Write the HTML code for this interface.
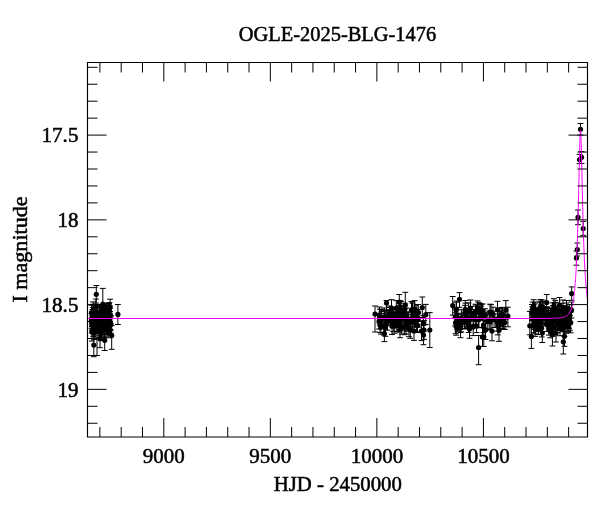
<!DOCTYPE html><html><head><meta charset="utf-8"><style>
html,body{margin:0;padding:0;background:#fff;width:600px;height:512px;overflow:hidden}
svg{display:block;will-change:transform}
text{font-family:"Liberation Serif",serif;fill:#000;stroke:#000;stroke-width:0.5px}
.n{font-size:20px}
.t{font-size:20px}
</style></head><body><svg width="600" height="512" viewBox="0 0 600 512"><defs><clipPath id="cp"><rect x="87" y="62" width="501" height="375.5"/></clipPath></defs><g clip-path="url(#cp)">
<path d="M97.8 318.2V331.6M101.9 319.8V334.7M92.6 309.5V324.7M92.9 312.2V325.6M99.8 313.6V327.7M103.7 306.9V324.7M108.2 323.4V337.8M94.3 314.9V332.0M95.0 315.1V331.0M104.0 306.2V319.5M92.7 318.3V332.4M104.8 305.6V321.5M100.3 314.4V328.9M107.0 309.4V325.3M101.7 305.3V322.7M105.7 307.6V321.2M106.3 317.1V330.3M104.5 317.2V334.0M102.7 315.1V331.5M103.1 306.8V322.7M100.4 320.3V335.7M99.0 310.6V325.9M94.8 310.9V324.5M92.6 312.3V326.5M99.1 306.7V324.0M93.1 301.9V319.3M107.5 313.1V330.4M96.9 304.6V322.0M110.2 315.5V329.2M94.9 311.9V327.3M103.0 316.9V331.2M91.6 305.2V321.0M110.1 314.1V330.5M101.6 304.6V317.9M109.0 303.5V320.4M108.6 313.6V328.6M93.5 304.2V320.4M92.7 316.5V330.3M98.1 314.3V327.6M91.5 313.5V328.3M92.0 312.9V330.3M103.5 314.8V329.5M98.6 316.5V330.1M108.1 319.1V334.5M93.2 311.9V325.4M98.2 310.9V324.7M92.0 323.2V341.0M101.8 317.7V330.9M101.8 317.0V334.9M108.3 309.8V324.6M94.8 305.4V322.3M101.9 313.1V327.2M107.3 303.9V321.8M108.1 315.1V331.8M95.9 299.1V314.7M98.4 313.4V327.8M96.6 311.1V327.5M110.8 315.5V333.2M98.6 312.9V326.9M95.5 315.9V332.0M109.1 315.2V331.4M107.1 305.5V319.0M104.4 320.9V337.7M100.8 305.5V319.4M106.9 303.8V321.7M99.2 322.4V337.4M110.0 311.5V325.1M94.4 306.0V323.5M107.2 318.0V335.9M104.3 322.0V336.8M102.2 310.9V328.7M104.2 312.1V327.7M95.6 317.6V331.9M97.2 312.4V326.7M99.7 321.5V335.1M109.2 306.3V322.3M109.1 317.6V332.7M109.4 302.6V318.2M91.9 311.3V326.5M95.1 324.6V338.5M100.7 311.0V327.6M102.4 307.2V323.0M106.8 319.7V333.3M102.4 310.6V327.5M101.4 316.7V332.5M106.3 317.4V333.5M101.4 307.3V322.8M105.0 303.0V318.4M109.9 313.3V329.8M108.6 316.2V332.0M109.9 308.5V325.7M94.2 317.8V331.1M96.2 317.6V330.9M104.6 315.3V329.0M94.3 325.5V339.6M110.1 299.2V314.2M101.0 325.3V339.1M99.9 310.4V325.9M98.1 312.7V329.4M91.9 316.9V332.7M100.1 317.2V333.3M101.5 313.1V326.4M110.7 316.7V330.2M92.3 313.2V326.8M99.7 304.8V322.3M107.5 310.0V327.6M102.6 314.7V331.2M93.2 321.4V336.6M92.9 313.9V331.6M103.9 311.3V328.6M92.8 307.6V324.9M100.3 305.5V323.1M96.7 319.7V333.3M101.8 312.3V326.1M92.5 315.4V329.4M97.6 307.8V322.2M101.3 323.2V337.1M98.3 317.7V330.8M105.8 311.7V327.5M93.6 313.0V330.1M396.3 300.6V315.6M399.3 310.6V327.0M418.3 304.5V321.0M404.4 319.7V334.7M392.9 314.6V327.9M408.6 312.3V326.6M385.5 318.9V336.3M405.8 316.6V331.0M388.7 310.0V323.8M396.8 317.2V331.5M417.5 318.2V332.4M417.6 310.0V324.6M393.3 316.2V331.6M399.1 311.5V325.5M399.2 316.1V329.5M395.0 312.0V325.2M379.9 309.2V325.1M400.2 313.9V330.7M405.3 308.6V323.6M385.0 310.6V323.8M412.4 302.0V319.4M404.1 310.6V324.3M400.0 300.7V316.3M412.4 314.0V329.9M414.7 300.6V317.0M406.7 311.8V325.5M393.4 313.1V326.6M412.4 303.2V319.4M406.2 308.0V323.4M379.1 313.4V329.0M400.4 301.6V317.9M381.6 311.5V324.8M389.6 306.0V322.6M387.2 309.8V325.3M398.2 306.7V322.7M404.7 303.2V316.6M384.9 311.0V325.5M401.7 321.0V334.1M381.4 309.3V325.8M406.0 319.4V333.9M399.7 305.7V319.3M414.7 312.9V326.9M418.1 311.8V327.1M411.8 309.2V327.0M397.0 309.2V326.9M387.4 314.3V330.2M384.3 307.9V325.0M399.3 317.9V332.1M414.9 305.2V320.6M380.0 317.3V332.5M391.1 311.8V325.5M392.8 307.7V320.8M409.0 319.5V336.7M383.8 317.5V335.0M390.6 307.2V322.1M394.7 318.4V333.2M396.1 311.3V325.6M380.9 319.7V334.1M416.4 317.6V331.8M389.6 307.5V322.4M417.2 309.5V327.0M411.5 301.4V319.1M401.0 301.3V317.9M381.0 309.5V326.2M404.8 305.3V319.7M381.0 313.4V328.8M392.7 310.0V324.5M408.6 314.6V330.9M391.0 310.0V325.8M394.8 313.1V327.1M500.3 313.1V328.6M477.5 300.9V314.6M464.6 315.5V329.0M467.0 313.6V327.9M483.5 317.4V332.5M475.7 304.2V319.9M473.8 309.8V324.2M503.4 312.9V326.5M480.2 303.4V317.5M468.6 302.9V317.1M497.4 313.9V331.2M456.1 317.7V335.2M478.7 311.8V327.7M497.8 317.0V334.9M467.4 312.7V328.3M489.1 311.2V328.9M491.1 304.7V320.0M482.6 303.9V317.1M494.1 311.2V327.5M461.4 309.7V326.2M460.6 319.1V332.5M481.2 306.2V320.3M485.1 308.8V321.8M487.2 312.7V330.1M478.8 309.5V327.3M490.2 314.9V329.4M456.1 302.2V317.3M467.9 309.9V326.3M501.3 310.9V325.6M476.0 311.2V327.6M464.9 312.9V328.4M465.3 300.5V318.3M470.6 312.6V326.8M493.0 307.2V321.6M502.6 307.4V321.5M475.9 309.9V326.3M502.4 314.3V328.4M503.7 315.5V329.2M457.6 314.4V331.9M499.2 311.7V328.4M504.9 315.5V329.4M501.8 307.6V324.3M456.6 307.8V322.7M471.6 306.5V320.3M455.1 308.2V325.9M461.2 314.1V331.9M465.4 303.1V320.2M476.6 319.4V332.6M478.7 302.4V316.4M473.2 318.1V335.6M456.5 301.1V317.9M457.0 316.8V329.9M458.1 313.3V330.1M499.9 308.6V323.3M468.6 318.2V332.5M558.9 308.5V323.1M541.7 319.3V336.9M555.7 309.4V327.1M531.9 309.8V327.6M568.2 317.3V332.2M540.8 302.8V320.5M538.1 312.5V329.5M559.8 314.5V330.6M543.8 301.4V316.0M545.1 311.5V325.5M560.4 308.5V322.7M533.5 318.1V332.8M569.2 310.9V328.3M569.5 311.0V324.5M550.4 312.2V328.8M548.4 310.6V326.7M557.3 315.8V332.6M564.0 307.8V325.0M542.5 307.5V323.3M545.5 310.6V324.8M540.6 307.1V320.9M565.5 305.8V320.8M569.7 307.7V323.2M540.0 312.2V330.1M535.0 302.2V317.5M562.9 318.6V331.8M542.5 300.0V313.6M538.4 317.0V334.6M545.5 308.0V325.3M548.5 308.5V326.2M535.1 320.4V336.4M555.2 312.3V326.0M539.0 316.5V330.8M554.4 309.1V322.2M543.8 306.5V322.9M538.2 308.0V324.9M552.4 315.1V328.4M535.0 303.9V320.1M534.6 315.7V329.5M558.1 306.6V321.1M568.2 313.3V327.9M553.1 305.5V322.8M569.9 315.5V330.3M538.7 310.9V324.0M566.2 306.4V321.5M563.0 300.0V315.3M537.3 318.4V331.4M552.5 302.9V316.4M555.3 300.4V315.3M550.7 313.2V328.8M567.1 315.1V328.7M550.1 316.3V330.3M567.8 318.2V331.4M567.1 309.5V324.4M566.3 303.0V316.8M561.6 303.3V317.4M546.8 317.5V331.4M539.5 301.2V316.2M551.2 308.6V322.8M559.3 311.3V328.8M532.6 302.1V315.3M563.7 307.4V320.9M554.4 302.7V317.3M547.4 307.4V323.3M547.6 306.9V322.1M531.9 304.5V320.6M550.1 310.5V327.4M548.9 321.2V335.1M549.5 312.9V328.0M534.6 312.4V327.6M550.9 319.6V333.0M559.6 311.7V328.6M550.9 317.3V332.1M568.1 313.5V327.2M564.4 319.2V336.3M538.6 308.8V326.7M550.2 324.0V337.8M561.7 305.6V323.2M533.6 305.1V318.9M566.0 318.9V333.3M562.8 313.6V331.2M539.1 316.4V330.7M550.7 310.4V324.3M537.3 310.7V328.3M557.5 312.4V329.4M535.5 307.9V323.6M555.8 302.4V318.1M553.6 318.7V336.1M535.1 319.0V333.9M562.1 310.5V324.8M569.6 304.6V321.4M548.2 308.4V322.3M560.0 321.5V335.7M555.9 312.4V330.3M553.8 308.8V321.8M532.3 306.7V320.4M555.0 302.7V320.2M536.1 313.9V328.0M556.5 311.0V325.8M535.1 310.7V325.5M96.3 285.5V303.1M102.8 288.4V319.6M117.9 304.5V324.5M111.7 325.6V349.3M104.7 331.3V350.5M93.8 335.0V356.7M100.0 329.7V347.7M97.0 321.0V355.5M375.0 306.0V332.0M379.5 307.0V323.0M386.5 300.5V313.0M391.5 299.7V316.3M399.3 294.5V310.2M405.3 292.3V314.0M422.3 297.0V317.5M425.8 304.4V324.6M429.8 312.6V347.5M384.4 324.6V341.6M392.0 317.5V334.5M400.0 320.3V337.7M410.3 321.7V338.3M414.0 321.6V340.4M421.5 321.4V340.6M424.0 320.6V339.4M423.5 325.3V344.7M417.0 304.5V321.5M413.0 308.0V324.0M403.0 306.4V321.6M423.4 315.6V331.6M452.7 296.5V315.1M459.5 292.6V307.3M464.9 305.3V320.7M470.4 300.0V316.0M475.4 305.0V321.0M481.5 304.4V319.6M490.0 304.2V319.8M497.5 301.3V317.7M505.8 300.6V319.2M507.9 307.2V326.8M455.6 312.7V333.7M460.5 318.3V337.7M469.5 319.7V338.3M478.6 335.5V364.7M483.8 328.0V346.5M485.5 320.5V339.5M482.5 327.5V346.5M499.0 319.2V341.3M492.0 321.2V340.8M529.8 311.4V334.8M531.4 324.5V348.4M533.7 299.7V312.3M540.6 299.5V312.5M546.7 294.5V310.5M553.9 298.7V313.3M559.6 297.5V312.5M566.5 300.5V315.5M571.7 286.9V300.3M542.3 323.5V342.5M552.4 323.0V346.0M563.3 329.6V354.0M570.7 312.2V332.8M571.5 302.0V318.0M564.5 326.3V346.3M556.0 324.0V342.0M580.5 123.5V135.1M579.6 154.4V163.6M581.5 151.6V163.4M578.0 210.0V224.7M583.2 221.4V235.4M577.3 243.0V256.0M576.4 251.0V265.2M94.9 318.2h5.8M94.9 331.6h5.8M99.0 319.8h5.8M99.0 334.7h5.8M89.7 309.5h5.8M89.7 324.7h5.8M90.0 312.2h5.8M90.0 325.6h5.8M96.9 313.6h5.8M96.9 327.7h5.8M100.8 306.9h5.8M100.8 324.7h5.8M105.3 323.4h5.8M105.3 337.8h5.8M91.4 314.9h5.8M91.4 332.0h5.8M92.1 315.1h5.8M92.1 331.0h5.8M101.1 306.2h5.8M101.1 319.5h5.8M89.8 318.3h5.8M89.8 332.4h5.8M101.9 305.6h5.8M101.9 321.5h5.8M97.4 314.4h5.8M97.4 328.9h5.8M104.1 309.4h5.8M104.1 325.3h5.8M98.8 305.3h5.8M98.8 322.7h5.8M102.8 307.6h5.8M102.8 321.2h5.8M103.4 317.1h5.8M103.4 330.3h5.8M101.6 317.2h5.8M101.6 334.0h5.8M99.8 315.1h5.8M99.8 331.5h5.8M100.2 306.8h5.8M100.2 322.7h5.8M97.5 320.3h5.8M97.5 335.7h5.8M96.1 310.6h5.8M96.1 325.9h5.8M91.9 310.9h5.8M91.9 324.5h5.8M89.7 312.3h5.8M89.7 326.5h5.8M96.2 306.7h5.8M96.2 324.0h5.8M90.2 301.9h5.8M90.2 319.3h5.8M104.6 313.1h5.8M104.6 330.4h5.8M94.0 304.6h5.8M94.0 322.0h5.8M107.3 315.5h5.8M107.3 329.2h5.8M92.0 311.9h5.8M92.0 327.3h5.8M100.1 316.9h5.8M100.1 331.2h5.8M88.7 305.2h5.8M88.7 321.0h5.8M107.2 314.1h5.8M107.2 330.5h5.8M98.7 304.6h5.8M98.7 317.9h5.8M106.1 303.5h5.8M106.1 320.4h5.8M105.7 313.6h5.8M105.7 328.6h5.8M90.6 304.2h5.8M90.6 320.4h5.8M89.8 316.5h5.8M89.8 330.3h5.8M95.2 314.3h5.8M95.2 327.6h5.8M88.6 313.5h5.8M88.6 328.3h5.8M89.1 312.9h5.8M89.1 330.3h5.8M100.6 314.8h5.8M100.6 329.5h5.8M95.7 316.5h5.8M95.7 330.1h5.8M105.2 319.1h5.8M105.2 334.5h5.8M90.3 311.9h5.8M90.3 325.4h5.8M95.3 310.9h5.8M95.3 324.7h5.8M89.1 323.2h5.8M89.1 341.0h5.8M98.9 317.7h5.8M98.9 330.9h5.8M98.9 317.0h5.8M98.9 334.9h5.8M105.4 309.8h5.8M105.4 324.6h5.8M91.9 305.4h5.8M91.9 322.3h5.8M99.0 313.1h5.8M99.0 327.2h5.8M104.4 303.9h5.8M104.4 321.8h5.8M105.2 315.1h5.8M105.2 331.8h5.8M93.0 299.1h5.8M93.0 314.7h5.8M95.5 313.4h5.8M95.5 327.8h5.8M93.7 311.1h5.8M93.7 327.5h5.8M107.9 315.5h5.8M107.9 333.2h5.8M95.7 312.9h5.8M95.7 326.9h5.8M92.6 315.9h5.8M92.6 332.0h5.8M106.2 315.2h5.8M106.2 331.4h5.8M104.2 305.5h5.8M104.2 319.0h5.8M101.5 320.9h5.8M101.5 337.7h5.8M97.9 305.5h5.8M97.9 319.4h5.8M104.0 303.8h5.8M104.0 321.7h5.8M96.3 322.4h5.8M96.3 337.4h5.8M107.1 311.5h5.8M107.1 325.1h5.8M91.5 306.0h5.8M91.5 323.5h5.8M104.3 318.0h5.8M104.3 335.9h5.8M101.4 322.0h5.8M101.4 336.8h5.8M99.3 310.9h5.8M99.3 328.7h5.8M101.3 312.1h5.8M101.3 327.7h5.8M92.7 317.6h5.8M92.7 331.9h5.8M94.3 312.4h5.8M94.3 326.7h5.8M96.8 321.5h5.8M96.8 335.1h5.8M106.3 306.3h5.8M106.3 322.3h5.8M106.2 317.6h5.8M106.2 332.7h5.8M106.5 302.6h5.8M106.5 318.2h5.8M89.0 311.3h5.8M89.0 326.5h5.8M92.2 324.6h5.8M92.2 338.5h5.8M97.8 311.0h5.8M97.8 327.6h5.8M99.5 307.2h5.8M99.5 323.0h5.8M103.9 319.7h5.8M103.9 333.3h5.8M99.5 310.6h5.8M99.5 327.5h5.8M98.5 316.7h5.8M98.5 332.5h5.8M103.4 317.4h5.8M103.4 333.5h5.8M98.5 307.3h5.8M98.5 322.8h5.8M102.1 303.0h5.8M102.1 318.4h5.8M107.0 313.3h5.8M107.0 329.8h5.8M105.7 316.2h5.8M105.7 332.0h5.8M107.0 308.5h5.8M107.0 325.7h5.8M91.3 317.8h5.8M91.3 331.1h5.8M93.3 317.6h5.8M93.3 330.9h5.8M101.7 315.3h5.8M101.7 329.0h5.8M91.4 325.5h5.8M91.4 339.6h5.8M107.2 299.2h5.8M107.2 314.2h5.8M98.1 325.3h5.8M98.1 339.1h5.8M97.0 310.4h5.8M97.0 325.9h5.8M95.2 312.7h5.8M95.2 329.4h5.8M89.0 316.9h5.8M89.0 332.7h5.8M97.2 317.2h5.8M97.2 333.3h5.8M98.6 313.1h5.8M98.6 326.4h5.8M107.8 316.7h5.8M107.8 330.2h5.8M89.4 313.2h5.8M89.4 326.8h5.8M96.8 304.8h5.8M96.8 322.3h5.8M104.6 310.0h5.8M104.6 327.6h5.8M99.7 314.7h5.8M99.7 331.2h5.8M90.3 321.4h5.8M90.3 336.6h5.8M90.0 313.9h5.8M90.0 331.6h5.8M101.0 311.3h5.8M101.0 328.6h5.8M89.9 307.6h5.8M89.9 324.9h5.8M97.4 305.5h5.8M97.4 323.1h5.8M93.8 319.7h5.8M93.8 333.3h5.8M98.9 312.3h5.8M98.9 326.1h5.8M89.6 315.4h5.8M89.6 329.4h5.8M94.7 307.8h5.8M94.7 322.2h5.8M98.4 323.2h5.8M98.4 337.1h5.8M95.4 317.7h5.8M95.4 330.8h5.8M102.9 311.7h5.8M102.9 327.5h5.8M90.7 313.0h5.8M90.7 330.1h5.8M393.4 300.6h5.8M393.4 315.6h5.8M396.4 310.6h5.8M396.4 327.0h5.8M415.4 304.5h5.8M415.4 321.0h5.8M401.5 319.7h5.8M401.5 334.7h5.8M390.0 314.6h5.8M390.0 327.9h5.8M405.7 312.3h5.8M405.7 326.6h5.8M382.6 318.9h5.8M382.6 336.3h5.8M402.9 316.6h5.8M402.9 331.0h5.8M385.8 310.0h5.8M385.8 323.8h5.8M393.9 317.2h5.8M393.9 331.5h5.8M414.6 318.2h5.8M414.6 332.4h5.8M414.7 310.0h5.8M414.7 324.6h5.8M390.4 316.2h5.8M390.4 331.6h5.8M396.2 311.5h5.8M396.2 325.5h5.8M396.3 316.1h5.8M396.3 329.5h5.8M392.1 312.0h5.8M392.1 325.2h5.8M377.0 309.2h5.8M377.0 325.1h5.8M397.3 313.9h5.8M397.3 330.7h5.8M402.4 308.6h5.8M402.4 323.6h5.8M382.1 310.6h5.8M382.1 323.8h5.8M409.5 302.0h5.8M409.5 319.4h5.8M401.2 310.6h5.8M401.2 324.3h5.8M397.1 300.7h5.8M397.1 316.3h5.8M409.5 314.0h5.8M409.5 329.9h5.8M411.8 300.6h5.8M411.8 317.0h5.8M403.8 311.8h5.8M403.8 325.5h5.8M390.5 313.1h5.8M390.5 326.6h5.8M409.5 303.2h5.8M409.5 319.4h5.8M403.3 308.0h5.8M403.3 323.4h5.8M376.2 313.4h5.8M376.2 329.0h5.8M397.5 301.6h5.8M397.5 317.9h5.8M378.7 311.5h5.8M378.7 324.8h5.8M386.7 306.0h5.8M386.7 322.6h5.8M384.3 309.8h5.8M384.3 325.3h5.8M395.3 306.7h5.8M395.3 322.7h5.8M401.8 303.2h5.8M401.8 316.6h5.8M382.0 311.0h5.8M382.0 325.5h5.8M398.8 321.0h5.8M398.8 334.1h5.8M378.5 309.3h5.8M378.5 325.8h5.8M403.1 319.4h5.8M403.1 333.9h5.8M396.8 305.7h5.8M396.8 319.3h5.8M411.8 312.9h5.8M411.8 326.9h5.8M415.2 311.8h5.8M415.2 327.1h5.8M408.9 309.2h5.8M408.9 327.0h5.8M394.1 309.2h5.8M394.1 326.9h5.8M384.5 314.3h5.8M384.5 330.2h5.8M381.4 307.9h5.8M381.4 325.0h5.8M396.4 317.9h5.8M396.4 332.1h5.8M412.0 305.2h5.8M412.0 320.6h5.8M377.1 317.3h5.8M377.1 332.5h5.8M388.2 311.8h5.8M388.2 325.5h5.8M389.9 307.7h5.8M389.9 320.8h5.8M406.1 319.5h5.8M406.1 336.7h5.8M380.9 317.5h5.8M380.9 335.0h5.8M387.7 307.2h5.8M387.7 322.1h5.8M391.8 318.4h5.8M391.8 333.2h5.8M393.2 311.3h5.8M393.2 325.6h5.8M378.0 319.7h5.8M378.0 334.1h5.8M413.5 317.6h5.8M413.5 331.8h5.8M386.7 307.5h5.8M386.7 322.4h5.8M414.3 309.5h5.8M414.3 327.0h5.8M408.6 301.4h5.8M408.6 319.1h5.8M398.1 301.3h5.8M398.1 317.9h5.8M378.1 309.5h5.8M378.1 326.2h5.8M401.9 305.3h5.8M401.9 319.7h5.8M378.1 313.4h5.8M378.1 328.8h5.8M389.8 310.0h5.8M389.8 324.5h5.8M405.7 314.6h5.8M405.7 330.9h5.8M388.1 310.0h5.8M388.1 325.8h5.8M391.9 313.1h5.8M391.9 327.1h5.8M497.4 313.1h5.8M497.4 328.6h5.8M474.6 300.9h5.8M474.6 314.6h5.8M461.7 315.5h5.8M461.7 329.0h5.8M464.1 313.6h5.8M464.1 327.9h5.8M480.6 317.4h5.8M480.6 332.5h5.8M472.8 304.2h5.8M472.8 319.9h5.8M470.9 309.8h5.8M470.9 324.2h5.8M500.5 312.9h5.8M500.5 326.5h5.8M477.3 303.4h5.8M477.3 317.5h5.8M465.7 302.9h5.8M465.7 317.1h5.8M494.5 313.9h5.8M494.5 331.2h5.8M453.2 317.7h5.8M453.2 335.2h5.8M475.8 311.8h5.8M475.8 327.7h5.8M494.9 317.0h5.8M494.9 334.9h5.8M464.5 312.7h5.8M464.5 328.3h5.8M486.2 311.2h5.8M486.2 328.9h5.8M488.2 304.7h5.8M488.2 320.0h5.8M479.7 303.9h5.8M479.7 317.1h5.8M491.2 311.2h5.8M491.2 327.5h5.8M458.5 309.7h5.8M458.5 326.2h5.8M457.7 319.1h5.8M457.7 332.5h5.8M478.3 306.2h5.8M478.3 320.3h5.8M482.2 308.8h5.8M482.2 321.8h5.8M484.3 312.7h5.8M484.3 330.1h5.8M475.9 309.5h5.8M475.9 327.3h5.8M487.3 314.9h5.8M487.3 329.4h5.8M453.2 302.2h5.8M453.2 317.3h5.8M465.0 309.9h5.8M465.0 326.3h5.8M498.4 310.9h5.8M498.4 325.6h5.8M473.1 311.2h5.8M473.1 327.6h5.8M462.0 312.9h5.8M462.0 328.4h5.8M462.4 300.5h5.8M462.4 318.3h5.8M467.7 312.6h5.8M467.7 326.8h5.8M490.1 307.2h5.8M490.1 321.6h5.8M499.7 307.4h5.8M499.7 321.5h5.8M473.0 309.9h5.8M473.0 326.3h5.8M499.5 314.3h5.8M499.5 328.4h5.8M500.8 315.5h5.8M500.8 329.2h5.8M454.7 314.4h5.8M454.7 331.9h5.8M496.3 311.7h5.8M496.3 328.4h5.8M502.0 315.5h5.8M502.0 329.4h5.8M498.9 307.6h5.8M498.9 324.3h5.8M453.7 307.8h5.8M453.7 322.7h5.8M468.7 306.5h5.8M468.7 320.3h5.8M452.2 308.2h5.8M452.2 325.9h5.8M458.3 314.1h5.8M458.3 331.9h5.8M462.5 303.1h5.8M462.5 320.2h5.8M473.7 319.4h5.8M473.7 332.6h5.8M475.8 302.4h5.8M475.8 316.4h5.8M470.3 318.1h5.8M470.3 335.6h5.8M453.6 301.1h5.8M453.6 317.9h5.8M454.1 316.8h5.8M454.1 329.9h5.8M455.2 313.3h5.8M455.2 330.1h5.8M497.0 308.6h5.8M497.0 323.3h5.8M465.7 318.2h5.8M465.7 332.5h5.8M556.0 308.5h5.8M556.0 323.1h5.8M538.8 319.3h5.8M538.8 336.9h5.8M552.8 309.4h5.8M552.8 327.1h5.8M529.0 309.8h5.8M529.0 327.6h5.8M565.3 317.3h5.8M565.3 332.2h5.8M537.9 302.8h5.8M537.9 320.5h5.8M535.2 312.5h5.8M535.2 329.5h5.8M556.9 314.5h5.8M556.9 330.6h5.8M540.9 301.4h5.8M540.9 316.0h5.8M542.2 311.5h5.8M542.2 325.5h5.8M557.5 308.5h5.8M557.5 322.7h5.8M530.6 318.1h5.8M530.6 332.8h5.8M566.3 310.9h5.8M566.3 328.3h5.8M566.6 311.0h5.8M566.6 324.5h5.8M547.5 312.2h5.8M547.5 328.8h5.8M545.5 310.6h5.8M545.5 326.7h5.8M554.4 315.8h5.8M554.4 332.6h5.8M561.1 307.8h5.8M561.1 325.0h5.8M539.6 307.5h5.8M539.6 323.3h5.8M542.6 310.6h5.8M542.6 324.8h5.8M537.7 307.1h5.8M537.7 320.9h5.8M562.6 305.8h5.8M562.6 320.8h5.8M566.8 307.7h5.8M566.8 323.2h5.8M537.1 312.2h5.8M537.1 330.1h5.8M532.1 302.2h5.8M532.1 317.5h5.8M560.0 318.6h5.8M560.0 331.8h5.8M539.6 300.0h5.8M539.6 313.6h5.8M535.5 317.0h5.8M535.5 334.6h5.8M542.6 308.0h5.8M542.6 325.3h5.8M545.6 308.5h5.8M545.6 326.2h5.8M532.2 320.4h5.8M532.2 336.4h5.8M552.3 312.3h5.8M552.3 326.0h5.8M536.1 316.5h5.8M536.1 330.8h5.8M551.5 309.1h5.8M551.5 322.2h5.8M540.9 306.5h5.8M540.9 322.9h5.8M535.3 308.0h5.8M535.3 324.9h5.8M549.5 315.1h5.8M549.5 328.4h5.8M532.1 303.9h5.8M532.1 320.1h5.8M531.7 315.7h5.8M531.7 329.5h5.8M555.2 306.6h5.8M555.2 321.1h5.8M565.3 313.3h5.8M565.3 327.9h5.8M550.2 305.5h5.8M550.2 322.8h5.8M567.0 315.5h5.8M567.0 330.3h5.8M535.8 310.9h5.8M535.8 324.0h5.8M563.3 306.4h5.8M563.3 321.5h5.8M560.1 300.0h5.8M560.1 315.3h5.8M534.4 318.4h5.8M534.4 331.4h5.8M549.6 302.9h5.8M549.6 316.4h5.8M552.4 300.4h5.8M552.4 315.3h5.8M547.8 313.2h5.8M547.8 328.8h5.8M564.2 315.1h5.8M564.2 328.7h5.8M547.2 316.3h5.8M547.2 330.3h5.8M564.9 318.2h5.8M564.9 331.4h5.8M564.2 309.5h5.8M564.2 324.4h5.8M563.4 303.0h5.8M563.4 316.8h5.8M558.7 303.3h5.8M558.7 317.4h5.8M543.9 317.5h5.8M543.9 331.4h5.8M536.6 301.2h5.8M536.6 316.2h5.8M548.3 308.6h5.8M548.3 322.8h5.8M556.4 311.3h5.8M556.4 328.8h5.8M529.7 302.1h5.8M529.7 315.3h5.8M560.8 307.4h5.8M560.8 320.9h5.8M551.5 302.7h5.8M551.5 317.3h5.8M544.5 307.4h5.8M544.5 323.3h5.8M544.7 306.9h5.8M544.7 322.1h5.8M529.0 304.5h5.8M529.0 320.6h5.8M547.2 310.5h5.8M547.2 327.4h5.8M546.0 321.2h5.8M546.0 335.1h5.8M546.6 312.9h5.8M546.6 328.0h5.8M531.7 312.4h5.8M531.7 327.6h5.8M548.0 319.6h5.8M548.0 333.0h5.8M556.7 311.7h5.8M556.7 328.6h5.8M548.0 317.3h5.8M548.0 332.1h5.8M565.2 313.5h5.8M565.2 327.2h5.8M561.5 319.2h5.8M561.5 336.3h5.8M535.7 308.8h5.8M535.7 326.7h5.8M547.3 324.0h5.8M547.3 337.8h5.8M558.8 305.6h5.8M558.8 323.2h5.8M530.7 305.1h5.8M530.7 318.9h5.8M563.1 318.9h5.8M563.1 333.3h5.8M559.9 313.6h5.8M559.9 331.2h5.8M536.2 316.4h5.8M536.2 330.7h5.8M547.8 310.4h5.8M547.8 324.3h5.8M534.4 310.7h5.8M534.4 328.3h5.8M554.6 312.4h5.8M554.6 329.4h5.8M532.6 307.9h5.8M532.6 323.6h5.8M552.9 302.4h5.8M552.9 318.1h5.8M550.7 318.7h5.8M550.7 336.1h5.8M532.2 319.0h5.8M532.2 333.9h5.8M559.2 310.5h5.8M559.2 324.8h5.8M566.7 304.6h5.8M566.7 321.4h5.8M545.3 308.4h5.8M545.3 322.3h5.8M557.1 321.5h5.8M557.1 335.7h5.8M553.0 312.4h5.8M553.0 330.3h5.8M550.9 308.8h5.8M550.9 321.8h5.8M529.4 306.7h5.8M529.4 320.4h5.8M552.1 302.7h5.8M552.1 320.2h5.8M533.2 313.9h5.8M533.2 328.0h5.8M553.6 311.0h5.8M553.6 325.8h5.8M532.2 310.7h5.8M532.2 325.5h5.8M93.4 285.5h5.8M93.4 303.1h5.8M99.9 288.4h5.8M99.9 319.6h5.8M115.0 304.5h5.8M115.0 324.5h5.8M108.8 325.6h5.8M108.8 349.3h5.8M101.8 331.3h5.8M101.8 350.5h5.8M90.9 335.0h5.8M90.9 356.7h5.8M97.1 329.7h5.8M97.1 347.7h5.8M94.1 321.0h5.8M94.1 355.5h5.8M372.1 306.0h5.8M372.1 332.0h5.8M376.6 307.0h5.8M376.6 323.0h5.8M383.6 300.5h5.8M383.6 313.0h5.8M388.6 299.7h5.8M388.6 316.3h5.8M396.4 294.5h5.8M396.4 310.2h5.8M402.4 292.3h5.8M402.4 314.0h5.8M419.4 297.0h5.8M419.4 317.5h5.8M422.9 304.4h5.8M422.9 324.6h5.8M426.9 312.6h5.8M426.9 347.5h5.8M381.5 324.6h5.8M381.5 341.6h5.8M389.1 317.5h5.8M389.1 334.5h5.8M397.1 320.3h5.8M397.1 337.7h5.8M407.4 321.7h5.8M407.4 338.3h5.8M411.1 321.6h5.8M411.1 340.4h5.8M418.6 321.4h5.8M418.6 340.6h5.8M421.1 320.6h5.8M421.1 339.4h5.8M420.6 325.3h5.8M420.6 344.7h5.8M414.1 304.5h5.8M414.1 321.5h5.8M410.1 308.0h5.8M410.1 324.0h5.8M400.1 306.4h5.8M400.1 321.6h5.8M420.5 315.6h5.8M420.5 331.6h5.8M449.8 296.5h5.8M449.8 315.1h5.8M456.6 292.6h5.8M456.6 307.3h5.8M462.0 305.3h5.8M462.0 320.7h5.8M467.5 300.0h5.8M467.5 316.0h5.8M472.5 305.0h5.8M472.5 321.0h5.8M478.6 304.4h5.8M478.6 319.6h5.8M487.1 304.2h5.8M487.1 319.8h5.8M494.6 301.3h5.8M494.6 317.7h5.8M502.9 300.6h5.8M502.9 319.2h5.8M505.0 307.2h5.8M505.0 326.8h5.8M452.7 312.7h5.8M452.7 333.7h5.8M457.6 318.3h5.8M457.6 337.7h5.8M466.6 319.7h5.8M466.6 338.3h5.8M475.7 335.5h5.8M475.7 364.7h5.8M480.9 328.0h5.8M480.9 346.5h5.8M482.6 320.5h5.8M482.6 339.5h5.8M479.6 327.5h5.8M479.6 346.5h5.8M496.1 319.2h5.8M496.1 341.3h5.8M489.1 321.2h5.8M489.1 340.8h5.8M526.9 311.4h5.8M526.9 334.8h5.8M528.5 324.5h5.8M528.5 348.4h5.8M530.8 299.7h5.8M530.8 312.3h5.8M537.7 299.5h5.8M537.7 312.5h5.8M543.8 294.5h5.8M543.8 310.5h5.8M551.0 298.7h5.8M551.0 313.3h5.8M556.7 297.5h5.8M556.7 312.5h5.8M563.6 300.5h5.8M563.6 315.5h5.8M568.8 286.9h5.8M568.8 300.3h5.8M539.4 323.5h5.8M539.4 342.5h5.8M549.5 323.0h5.8M549.5 346.0h5.8M560.4 329.6h5.8M560.4 354.0h5.8M567.8 312.2h5.8M567.8 332.8h5.8M568.6 302.0h5.8M568.6 318.0h5.8M561.6 326.3h5.8M561.6 346.3h5.8M553.1 324.0h5.8M553.1 342.0h5.8M577.6 123.5h5.8M577.6 135.1h5.8M576.7 154.4h5.8M576.7 163.6h5.8M578.6 151.6h5.8M578.6 163.4h5.8M575.1 210.0h5.8M575.1 224.7h5.8M580.3 221.4h5.8M580.3 235.4h5.8M574.4 243.0h5.8M574.4 256.0h5.8M573.5 251.0h5.8M573.5 265.2h5.8" stroke="#000" stroke-width="1" fill="none"/>
<g fill="#000"><circle cx="97.8" cy="324.9" r="2.6"/><circle cx="101.9" cy="327.2" r="2.6"/><circle cx="92.6" cy="317.1" r="2.6"/><circle cx="92.9" cy="318.9" r="2.6"/><circle cx="99.8" cy="320.7" r="2.6"/><circle cx="103.7" cy="315.8" r="2.6"/><circle cx="108.2" cy="330.6" r="2.6"/><circle cx="94.3" cy="323.4" r="2.6"/><circle cx="95.0" cy="323.1" r="2.6"/><circle cx="104.0" cy="312.9" r="2.6"/><circle cx="92.7" cy="325.3" r="2.6"/><circle cx="104.8" cy="313.5" r="2.6"/><circle cx="100.3" cy="321.7" r="2.6"/><circle cx="107.0" cy="317.4" r="2.6"/><circle cx="101.7" cy="314.0" r="2.6"/><circle cx="105.7" cy="314.4" r="2.6"/><circle cx="106.3" cy="323.7" r="2.6"/><circle cx="104.5" cy="325.6" r="2.6"/><circle cx="102.7" cy="323.3" r="2.6"/><circle cx="103.1" cy="314.7" r="2.6"/><circle cx="100.4" cy="328.0" r="2.6"/><circle cx="99.0" cy="318.3" r="2.6"/><circle cx="94.8" cy="317.7" r="2.6"/><circle cx="92.6" cy="319.4" r="2.6"/><circle cx="99.1" cy="315.3" r="2.6"/><circle cx="93.1" cy="310.6" r="2.6"/><circle cx="107.5" cy="321.8" r="2.6"/><circle cx="96.9" cy="313.3" r="2.6"/><circle cx="110.2" cy="322.3" r="2.6"/><circle cx="94.9" cy="319.6" r="2.6"/><circle cx="103.0" cy="324.1" r="2.6"/><circle cx="91.6" cy="313.1" r="2.6"/><circle cx="110.1" cy="322.3" r="2.6"/><circle cx="101.6" cy="311.2" r="2.6"/><circle cx="109.0" cy="311.9" r="2.6"/><circle cx="108.6" cy="321.1" r="2.6"/><circle cx="93.5" cy="312.3" r="2.6"/><circle cx="92.7" cy="323.4" r="2.6"/><circle cx="98.1" cy="321.0" r="2.6"/><circle cx="91.5" cy="320.9" r="2.6"/><circle cx="92.0" cy="321.6" r="2.6"/><circle cx="103.5" cy="322.2" r="2.6"/><circle cx="98.6" cy="323.3" r="2.6"/><circle cx="108.1" cy="326.8" r="2.6"/><circle cx="93.2" cy="318.7" r="2.6"/><circle cx="98.2" cy="317.8" r="2.6"/><circle cx="92.0" cy="332.1" r="2.6"/><circle cx="101.8" cy="324.3" r="2.6"/><circle cx="101.8" cy="326.0" r="2.6"/><circle cx="108.3" cy="317.2" r="2.6"/><circle cx="94.8" cy="313.9" r="2.6"/><circle cx="101.9" cy="320.1" r="2.6"/><circle cx="107.3" cy="312.8" r="2.6"/><circle cx="108.1" cy="323.5" r="2.6"/><circle cx="95.9" cy="306.9" r="2.6"/><circle cx="98.4" cy="320.6" r="2.6"/><circle cx="96.6" cy="319.3" r="2.6"/><circle cx="110.8" cy="324.4" r="2.6"/><circle cx="98.6" cy="319.9" r="2.6"/><circle cx="95.5" cy="323.9" r="2.6"/><circle cx="109.1" cy="323.3" r="2.6"/><circle cx="107.1" cy="312.3" r="2.6"/><circle cx="104.4" cy="329.3" r="2.6"/><circle cx="100.8" cy="312.4" r="2.6"/><circle cx="106.9" cy="312.8" r="2.6"/><circle cx="99.2" cy="329.9" r="2.6"/><circle cx="110.0" cy="318.3" r="2.6"/><circle cx="94.4" cy="314.8" r="2.6"/><circle cx="107.2" cy="327.0" r="2.6"/><circle cx="104.3" cy="329.4" r="2.6"/><circle cx="102.2" cy="319.8" r="2.6"/><circle cx="104.2" cy="319.9" r="2.6"/><circle cx="95.6" cy="324.7" r="2.6"/><circle cx="97.2" cy="319.6" r="2.6"/><circle cx="99.7" cy="328.3" r="2.6"/><circle cx="109.2" cy="314.3" r="2.6"/><circle cx="109.1" cy="325.2" r="2.6"/><circle cx="109.4" cy="310.4" r="2.6"/><circle cx="91.9" cy="318.9" r="2.6"/><circle cx="95.1" cy="331.5" r="2.6"/><circle cx="100.7" cy="319.3" r="2.6"/><circle cx="102.4" cy="315.1" r="2.6"/><circle cx="106.8" cy="326.5" r="2.6"/><circle cx="102.4" cy="319.1" r="2.6"/><circle cx="101.4" cy="324.6" r="2.6"/><circle cx="106.3" cy="325.5" r="2.6"/><circle cx="101.4" cy="315.0" r="2.6"/><circle cx="105.0" cy="310.7" r="2.6"/><circle cx="109.9" cy="321.5" r="2.6"/><circle cx="108.6" cy="324.1" r="2.6"/><circle cx="109.9" cy="317.1" r="2.6"/><circle cx="94.2" cy="324.5" r="2.6"/><circle cx="96.2" cy="324.2" r="2.6"/><circle cx="104.6" cy="322.2" r="2.6"/><circle cx="94.3" cy="332.6" r="2.6"/><circle cx="110.1" cy="306.7" r="2.6"/><circle cx="101.0" cy="332.2" r="2.6"/><circle cx="99.9" cy="318.2" r="2.6"/><circle cx="98.1" cy="321.0" r="2.6"/><circle cx="91.9" cy="324.8" r="2.6"/><circle cx="100.1" cy="325.2" r="2.6"/><circle cx="101.5" cy="319.7" r="2.6"/><circle cx="110.7" cy="323.5" r="2.6"/><circle cx="92.3" cy="320.0" r="2.6"/><circle cx="99.7" cy="313.5" r="2.6"/><circle cx="107.5" cy="318.8" r="2.6"/><circle cx="102.6" cy="323.0" r="2.6"/><circle cx="93.2" cy="329.0" r="2.6"/><circle cx="92.9" cy="322.8" r="2.6"/><circle cx="103.9" cy="319.9" r="2.6"/><circle cx="92.8" cy="316.2" r="2.6"/><circle cx="100.3" cy="314.3" r="2.6"/><circle cx="96.7" cy="326.5" r="2.6"/><circle cx="101.8" cy="319.2" r="2.6"/><circle cx="92.5" cy="322.4" r="2.6"/><circle cx="97.6" cy="315.0" r="2.6"/><circle cx="101.3" cy="330.1" r="2.6"/><circle cx="98.3" cy="324.3" r="2.6"/><circle cx="105.8" cy="319.6" r="2.6"/><circle cx="93.6" cy="321.6" r="2.6"/><circle cx="396.3" cy="308.1" r="2.6"/><circle cx="399.3" cy="318.8" r="2.6"/><circle cx="418.3" cy="312.8" r="2.6"/><circle cx="404.4" cy="327.2" r="2.6"/><circle cx="392.9" cy="321.2" r="2.6"/><circle cx="408.6" cy="319.5" r="2.6"/><circle cx="385.5" cy="327.6" r="2.6"/><circle cx="405.8" cy="323.8" r="2.6"/><circle cx="388.7" cy="316.9" r="2.6"/><circle cx="396.8" cy="324.4" r="2.6"/><circle cx="417.5" cy="325.3" r="2.6"/><circle cx="417.6" cy="317.3" r="2.6"/><circle cx="393.3" cy="323.9" r="2.6"/><circle cx="399.1" cy="318.5" r="2.6"/><circle cx="399.2" cy="322.8" r="2.6"/><circle cx="395.0" cy="318.6" r="2.6"/><circle cx="379.9" cy="317.2" r="2.6"/><circle cx="400.2" cy="322.3" r="2.6"/><circle cx="405.3" cy="316.1" r="2.6"/><circle cx="385.0" cy="317.2" r="2.6"/><circle cx="412.4" cy="310.7" r="2.6"/><circle cx="404.1" cy="317.5" r="2.6"/><circle cx="400.0" cy="308.5" r="2.6"/><circle cx="412.4" cy="322.0" r="2.6"/><circle cx="414.7" cy="308.8" r="2.6"/><circle cx="406.7" cy="318.7" r="2.6"/><circle cx="393.4" cy="319.9" r="2.6"/><circle cx="412.4" cy="311.3" r="2.6"/><circle cx="406.2" cy="315.7" r="2.6"/><circle cx="379.1" cy="321.2" r="2.6"/><circle cx="400.4" cy="309.8" r="2.6"/><circle cx="381.6" cy="318.2" r="2.6"/><circle cx="389.6" cy="314.3" r="2.6"/><circle cx="387.2" cy="317.5" r="2.6"/><circle cx="398.2" cy="314.7" r="2.6"/><circle cx="404.7" cy="309.9" r="2.6"/><circle cx="384.9" cy="318.3" r="2.6"/><circle cx="401.7" cy="327.6" r="2.6"/><circle cx="381.4" cy="317.5" r="2.6"/><circle cx="406.0" cy="326.7" r="2.6"/><circle cx="399.7" cy="312.5" r="2.6"/><circle cx="414.7" cy="319.9" r="2.6"/><circle cx="418.1" cy="319.5" r="2.6"/><circle cx="411.8" cy="318.1" r="2.6"/><circle cx="397.0" cy="318.1" r="2.6"/><circle cx="387.4" cy="322.2" r="2.6"/><circle cx="384.3" cy="316.5" r="2.6"/><circle cx="399.3" cy="325.0" r="2.6"/><circle cx="414.9" cy="312.9" r="2.6"/><circle cx="380.0" cy="324.9" r="2.6"/><circle cx="391.1" cy="318.6" r="2.6"/><circle cx="392.8" cy="314.3" r="2.6"/><circle cx="409.0" cy="328.1" r="2.6"/><circle cx="383.8" cy="326.3" r="2.6"/><circle cx="390.6" cy="314.6" r="2.6"/><circle cx="394.7" cy="325.8" r="2.6"/><circle cx="396.1" cy="318.4" r="2.6"/><circle cx="380.9" cy="326.9" r="2.6"/><circle cx="416.4" cy="324.7" r="2.6"/><circle cx="389.6" cy="314.9" r="2.6"/><circle cx="417.2" cy="318.3" r="2.6"/><circle cx="411.5" cy="310.2" r="2.6"/><circle cx="401.0" cy="309.6" r="2.6"/><circle cx="381.0" cy="317.8" r="2.6"/><circle cx="404.8" cy="312.5" r="2.6"/><circle cx="381.0" cy="321.1" r="2.6"/><circle cx="392.7" cy="317.2" r="2.6"/><circle cx="408.6" cy="322.7" r="2.6"/><circle cx="391.0" cy="317.9" r="2.6"/><circle cx="394.8" cy="320.1" r="2.6"/><circle cx="500.3" cy="320.8" r="2.6"/><circle cx="477.5" cy="307.7" r="2.6"/><circle cx="464.6" cy="322.2" r="2.6"/><circle cx="467.0" cy="320.7" r="2.6"/><circle cx="483.5" cy="325.0" r="2.6"/><circle cx="475.7" cy="312.0" r="2.6"/><circle cx="473.8" cy="317.0" r="2.6"/><circle cx="503.4" cy="319.7" r="2.6"/><circle cx="480.2" cy="310.5" r="2.6"/><circle cx="468.6" cy="310.0" r="2.6"/><circle cx="497.4" cy="322.6" r="2.6"/><circle cx="456.1" cy="326.5" r="2.6"/><circle cx="478.7" cy="319.7" r="2.6"/><circle cx="497.8" cy="325.9" r="2.6"/><circle cx="467.4" cy="320.5" r="2.6"/><circle cx="489.1" cy="320.0" r="2.6"/><circle cx="491.1" cy="312.4" r="2.6"/><circle cx="482.6" cy="310.5" r="2.6"/><circle cx="494.1" cy="319.4" r="2.6"/><circle cx="461.4" cy="317.9" r="2.6"/><circle cx="460.6" cy="325.8" r="2.6"/><circle cx="481.2" cy="313.3" r="2.6"/><circle cx="485.1" cy="315.3" r="2.6"/><circle cx="487.2" cy="321.4" r="2.6"/><circle cx="478.8" cy="318.4" r="2.6"/><circle cx="490.2" cy="322.1" r="2.6"/><circle cx="456.1" cy="309.8" r="2.6"/><circle cx="467.9" cy="318.1" r="2.6"/><circle cx="501.3" cy="318.2" r="2.6"/><circle cx="476.0" cy="319.4" r="2.6"/><circle cx="464.9" cy="320.6" r="2.6"/><circle cx="465.3" cy="309.4" r="2.6"/><circle cx="470.6" cy="319.7" r="2.6"/><circle cx="493.0" cy="314.4" r="2.6"/><circle cx="502.6" cy="314.5" r="2.6"/><circle cx="475.9" cy="318.1" r="2.6"/><circle cx="502.4" cy="321.3" r="2.6"/><circle cx="503.7" cy="322.4" r="2.6"/><circle cx="457.6" cy="323.1" r="2.6"/><circle cx="499.2" cy="320.0" r="2.6"/><circle cx="504.9" cy="322.5" r="2.6"/><circle cx="501.8" cy="316.0" r="2.6"/><circle cx="456.6" cy="315.3" r="2.6"/><circle cx="471.6" cy="313.4" r="2.6"/><circle cx="455.1" cy="317.0" r="2.6"/><circle cx="461.2" cy="323.0" r="2.6"/><circle cx="465.4" cy="311.7" r="2.6"/><circle cx="476.6" cy="326.0" r="2.6"/><circle cx="478.7" cy="309.4" r="2.6"/><circle cx="473.2" cy="326.9" r="2.6"/><circle cx="456.5" cy="309.5" r="2.6"/><circle cx="457.0" cy="323.3" r="2.6"/><circle cx="458.1" cy="321.7" r="2.6"/><circle cx="499.9" cy="316.0" r="2.6"/><circle cx="468.6" cy="325.4" r="2.6"/><circle cx="558.9" cy="315.8" r="2.6"/><circle cx="541.7" cy="328.1" r="2.6"/><circle cx="555.7" cy="318.2" r="2.6"/><circle cx="531.9" cy="318.7" r="2.6"/><circle cx="568.2" cy="324.8" r="2.6"/><circle cx="540.8" cy="311.7" r="2.6"/><circle cx="538.1" cy="321.0" r="2.6"/><circle cx="559.8" cy="322.6" r="2.6"/><circle cx="543.8" cy="308.7" r="2.6"/><circle cx="545.1" cy="318.5" r="2.6"/><circle cx="560.4" cy="315.6" r="2.6"/><circle cx="533.5" cy="325.4" r="2.6"/><circle cx="569.2" cy="319.6" r="2.6"/><circle cx="569.5" cy="317.8" r="2.6"/><circle cx="550.4" cy="320.5" r="2.6"/><circle cx="548.4" cy="318.6" r="2.6"/><circle cx="557.3" cy="324.2" r="2.6"/><circle cx="564.0" cy="316.4" r="2.6"/><circle cx="542.5" cy="315.4" r="2.6"/><circle cx="545.5" cy="317.7" r="2.6"/><circle cx="540.6" cy="314.0" r="2.6"/><circle cx="565.5" cy="313.3" r="2.6"/><circle cx="569.7" cy="315.5" r="2.6"/><circle cx="540.0" cy="321.1" r="2.6"/><circle cx="535.0" cy="309.8" r="2.6"/><circle cx="562.9" cy="325.2" r="2.6"/><circle cx="542.5" cy="306.8" r="2.6"/><circle cx="538.4" cy="325.8" r="2.6"/><circle cx="545.5" cy="316.7" r="2.6"/><circle cx="548.5" cy="317.3" r="2.6"/><circle cx="535.1" cy="328.4" r="2.6"/><circle cx="555.2" cy="319.2" r="2.6"/><circle cx="539.0" cy="323.6" r="2.6"/><circle cx="554.4" cy="315.7" r="2.6"/><circle cx="543.8" cy="314.7" r="2.6"/><circle cx="538.2" cy="316.5" r="2.6"/><circle cx="552.4" cy="321.7" r="2.6"/><circle cx="535.0" cy="312.0" r="2.6"/><circle cx="534.6" cy="322.6" r="2.6"/><circle cx="558.1" cy="313.9" r="2.6"/><circle cx="568.2" cy="320.6" r="2.6"/><circle cx="553.1" cy="314.1" r="2.6"/><circle cx="569.9" cy="322.9" r="2.6"/><circle cx="538.7" cy="317.4" r="2.6"/><circle cx="566.2" cy="314.0" r="2.6"/><circle cx="563.0" cy="307.7" r="2.6"/><circle cx="537.3" cy="324.9" r="2.6"/><circle cx="552.5" cy="309.7" r="2.6"/><circle cx="555.3" cy="307.8" r="2.6"/><circle cx="550.7" cy="321.0" r="2.6"/><circle cx="567.1" cy="321.9" r="2.6"/><circle cx="550.1" cy="323.3" r="2.6"/><circle cx="567.8" cy="324.8" r="2.6"/><circle cx="567.1" cy="316.9" r="2.6"/><circle cx="566.3" cy="309.9" r="2.6"/><circle cx="561.6" cy="310.3" r="2.6"/><circle cx="546.8" cy="324.4" r="2.6"/><circle cx="539.5" cy="308.7" r="2.6"/><circle cx="551.2" cy="315.7" r="2.6"/><circle cx="559.3" cy="320.1" r="2.6"/><circle cx="532.6" cy="308.7" r="2.6"/><circle cx="563.7" cy="314.1" r="2.6"/><circle cx="554.4" cy="310.0" r="2.6"/><circle cx="547.4" cy="315.4" r="2.6"/><circle cx="547.6" cy="314.5" r="2.6"/><circle cx="531.9" cy="312.5" r="2.6"/><circle cx="550.1" cy="318.9" r="2.6"/><circle cx="548.9" cy="328.1" r="2.6"/><circle cx="549.5" cy="320.5" r="2.6"/><circle cx="534.6" cy="320.0" r="2.6"/><circle cx="550.9" cy="326.3" r="2.6"/><circle cx="559.6" cy="320.2" r="2.6"/><circle cx="550.9" cy="324.7" r="2.6"/><circle cx="568.1" cy="320.4" r="2.6"/><circle cx="564.4" cy="327.7" r="2.6"/><circle cx="538.6" cy="317.8" r="2.6"/><circle cx="550.2" cy="330.9" r="2.6"/><circle cx="561.7" cy="314.4" r="2.6"/><circle cx="533.6" cy="312.0" r="2.6"/><circle cx="566.0" cy="326.1" r="2.6"/><circle cx="562.8" cy="322.4" r="2.6"/><circle cx="539.1" cy="323.6" r="2.6"/><circle cx="550.7" cy="317.3" r="2.6"/><circle cx="537.3" cy="319.5" r="2.6"/><circle cx="557.5" cy="320.9" r="2.6"/><circle cx="535.5" cy="315.8" r="2.6"/><circle cx="555.8" cy="310.2" r="2.6"/><circle cx="553.6" cy="327.4" r="2.6"/><circle cx="535.1" cy="326.5" r="2.6"/><circle cx="562.1" cy="317.6" r="2.6"/><circle cx="569.6" cy="313.0" r="2.6"/><circle cx="548.2" cy="315.4" r="2.6"/><circle cx="560.0" cy="328.6" r="2.6"/><circle cx="555.9" cy="321.3" r="2.6"/><circle cx="553.8" cy="315.3" r="2.6"/><circle cx="532.3" cy="313.5" r="2.6"/><circle cx="555.0" cy="311.4" r="2.6"/><circle cx="536.1" cy="321.0" r="2.6"/><circle cx="556.5" cy="318.4" r="2.6"/><circle cx="535.1" cy="318.1" r="2.6"/><circle cx="96.3" cy="294.3" r="2.6"/><circle cx="102.8" cy="304.0" r="2.6"/><circle cx="117.9" cy="314.4" r="2.6"/><circle cx="111.7" cy="335.6" r="2.6"/><circle cx="104.7" cy="340.3" r="2.6"/><circle cx="93.8" cy="345.0" r="2.6"/><circle cx="100.0" cy="338.7" r="2.6"/><circle cx="97.0" cy="330.0" r="2.6"/><circle cx="375.0" cy="314.0" r="2.6"/><circle cx="379.5" cy="315.0" r="2.6"/><circle cx="386.5" cy="303.0" r="2.6"/><circle cx="391.5" cy="308.0" r="2.6"/><circle cx="399.3" cy="302.2" r="2.6"/><circle cx="405.3" cy="305.0" r="2.6"/><circle cx="422.3" cy="307.5" r="2.6"/><circle cx="425.8" cy="314.6" r="2.6"/><circle cx="429.8" cy="330.0" r="2.6"/><circle cx="384.4" cy="333.6" r="2.6"/><circle cx="392.0" cy="326.0" r="2.6"/><circle cx="400.0" cy="329.0" r="2.6"/><circle cx="410.3" cy="330.0" r="2.6"/><circle cx="414.0" cy="331.0" r="2.6"/><circle cx="421.5" cy="331.0" r="2.6"/><circle cx="424.0" cy="330.0" r="2.6"/><circle cx="423.5" cy="335.0" r="2.6"/><circle cx="417.0" cy="313.0" r="2.6"/><circle cx="413.0" cy="316.0" r="2.6"/><circle cx="403.0" cy="314.0" r="2.6"/><circle cx="423.4" cy="323.6" r="2.6"/><circle cx="452.7" cy="305.6" r="2.6"/><circle cx="459.5" cy="299.3" r="2.6"/><circle cx="464.9" cy="313.0" r="2.6"/><circle cx="470.4" cy="308.0" r="2.6"/><circle cx="475.4" cy="313.0" r="2.6"/><circle cx="481.5" cy="312.0" r="2.6"/><circle cx="490.0" cy="312.0" r="2.6"/><circle cx="497.5" cy="309.5" r="2.6"/><circle cx="505.8" cy="309.9" r="2.6"/><circle cx="507.9" cy="316.2" r="2.6"/><circle cx="455.6" cy="322.7" r="2.6"/><circle cx="460.5" cy="328.0" r="2.6"/><circle cx="469.5" cy="329.0" r="2.6"/><circle cx="478.6" cy="347.5" r="2.6"/><circle cx="483.8" cy="337.0" r="2.6"/><circle cx="485.5" cy="330.0" r="2.6"/><circle cx="482.5" cy="337.0" r="2.6"/><circle cx="499.0" cy="330.2" r="2.6"/><circle cx="492.0" cy="331.0" r="2.6"/><circle cx="529.8" cy="325.8" r="2.6"/><circle cx="531.4" cy="336.5" r="2.6"/><circle cx="533.7" cy="306.0" r="2.6"/><circle cx="540.6" cy="306.0" r="2.6"/><circle cx="546.7" cy="302.5" r="2.6"/><circle cx="553.9" cy="306.0" r="2.6"/><circle cx="559.6" cy="305.0" r="2.6"/><circle cx="566.5" cy="308.0" r="2.6"/><circle cx="571.7" cy="293.6" r="2.6"/><circle cx="542.3" cy="333.0" r="2.6"/><circle cx="552.4" cy="334.5" r="2.6"/><circle cx="563.3" cy="341.8" r="2.6"/><circle cx="570.7" cy="322.5" r="2.6"/><circle cx="571.5" cy="310.0" r="2.6"/><circle cx="564.5" cy="336.3" r="2.6"/><circle cx="556.0" cy="333.0" r="2.6"/><circle cx="580.5" cy="129.3" r="2.6"/><circle cx="579.6" cy="159.6" r="2.6"/><circle cx="581.5" cy="157.3" r="2.6"/><circle cx="578.0" cy="217.3" r="2.6"/><circle cx="583.2" cy="228.6" r="2.6"/><circle cx="577.3" cy="249.5" r="2.6"/><circle cx="576.4" cy="258.0" r="2.6"/></g>
<polyline points="87.00,318.50 91.00,318.50 95.00,318.50 99.00,318.50 103.00,318.50 107.00,318.50 111.00,318.50 115.00,318.50 119.00,318.50 123.00,318.50 127.00,318.50 131.00,318.50 135.00,318.50 139.00,318.50 143.00,318.50 147.00,318.50 151.00,318.50 155.00,318.50 159.00,318.50 163.00,318.50 167.00,318.50 171.00,318.50 175.00,318.50 179.00,318.50 183.00,318.50 187.00,318.50 191.00,318.50 195.00,318.50 199.00,318.50 203.00,318.50 207.00,318.50 211.00,318.50 215.00,318.50 219.00,318.50 223.00,318.50 227.00,318.50 231.00,318.50 235.00,318.50 239.00,318.50 243.00,318.50 247.00,318.50 251.00,318.50 255.00,318.50 259.00,318.50 263.00,318.50 267.00,318.50 271.00,318.50 275.00,318.50 279.00,318.50 283.00,318.50 287.00,318.50 291.00,318.50 295.00,318.50 299.00,318.50 303.00,318.50 307.00,318.50 311.00,318.50 315.00,318.50 319.00,318.50 323.00,318.50 327.00,318.50 331.00,318.50 335.00,318.50 339.00,318.50 343.00,318.50 347.00,318.50 351.00,318.50 355.00,318.50 359.00,318.50 363.00,318.50 367.00,318.50 371.00,318.50 375.00,318.50 379.00,318.50 383.00,318.50 387.00,318.50 391.00,318.50 395.00,318.50 399.00,318.50 403.00,318.50 407.00,318.50 411.00,318.50 415.00,318.50 419.00,318.50 423.00,318.50 427.00,318.50 431.00,318.50 435.00,318.50 439.00,318.50 443.00,318.50 447.00,318.50 451.00,318.50 455.00,318.50 459.00,318.50 463.00,318.50 467.00,318.50 471.00,318.50 475.00,318.50 479.00,318.50 483.00,318.50 487.00,318.50 491.00,318.50 495.00,318.50 499.00,318.50 503.00,318.50 507.00,318.50 511.00,318.49 515.00,318.49 519.00,318.49 523.00,318.49 527.00,318.48 531.00,318.48 535.00,318.47 539.00,318.45 543.00,318.43 547.00,318.39 551.00,318.33 551.50,318.31 552.00,318.30 552.50,318.29 553.00,318.27 553.50,318.26 554.00,318.24 554.50,318.22 555.00,318.20 555.50,318.18 556.00,318.15 556.50,318.12 557.00,318.09 557.50,318.06 558.00,318.02 558.50,317.98 559.00,317.93 559.50,317.88 560.00,317.82 560.50,317.76 561.00,317.69 561.50,317.61 562.00,317.52 562.50,317.42 563.00,317.31 563.50,317.18 564.00,317.03 564.50,316.87 565.00,316.68 565.50,316.46 566.00,316.21 566.50,315.93 567.00,315.60 567.50,315.21 568.00,314.77 568.50,314.25 569.00,313.65 569.50,312.93 570.00,312.09 570.50,311.10 571.00,309.92 571.50,308.51 572.00,306.82 572.50,304.79 573.00,302.35 573.10,301.80 573.20,301.23 573.30,300.64 573.40,300.03 573.50,299.39 573.60,298.72 573.70,298.03 573.80,297.32 573.90,296.57 574.00,295.80 574.10,294.99 574.20,294.15 574.30,293.28 574.40,292.37 574.50,291.43 574.60,290.45 574.70,289.42 574.80,288.36 574.90,287.25 575.00,286.10 575.10,284.90 575.20,283.66 575.30,282.36 575.40,281.00 575.50,279.60 575.60,278.13 575.70,276.61 575.80,275.02 575.90,273.37 576.00,271.65 576.10,269.86 576.20,268.00 576.30,266.06 576.40,264.05 576.50,261.95 576.60,259.77 576.70,257.50 576.80,255.14 576.90,252.69 577.00,250.15 577.10,247.50 577.20,244.75 577.30,241.90 577.40,238.95 577.50,235.88 577.60,232.70 577.70,229.41 577.80,226.01 577.90,222.49 578.00,218.86 578.10,215.11 578.20,211.25 578.30,207.28 578.40,203.21 578.50,199.03 578.60,194.77 578.70,190.42 578.80,186.01 578.90,181.54 579.00,177.04 579.10,172.53 579.20,168.03 579.30,163.58 579.40,159.22 579.50,154.98 579.60,150.91 579.70,147.07 579.80,143.49 579.90,140.24 580.00,137.38 580.10,134.95 580.20,133.01 580.30,131.59 580.40,130.72 580.50,130.43 580.60,130.72 580.70,131.59 580.80,133.01 580.90,134.95 581.00,137.38 581.10,140.24 581.20,143.49 581.30,147.07 581.40,150.91 581.50,154.98 581.60,159.22 581.70,163.58 581.80,168.03 581.90,172.53 582.00,177.04 582.10,181.54 582.20,186.01 582.30,190.42 582.40,194.77 582.50,199.03 582.60,203.21 582.70,207.28 582.80,211.25 582.90,215.11 583.00,218.86 583.10,222.49 583.20,226.01 583.30,229.41 583.40,232.70 583.50,235.88 583.60,238.95 583.70,241.90 583.80,244.75 583.90,247.50 584.00,250.15 584.10,252.69 584.20,255.14 584.30,257.50 584.40,259.77 584.50,261.95 584.60,264.05 584.70,266.06 584.80,268.00 584.90,269.86 585.00,271.65 585.10,273.37 585.20,275.02 585.30,276.61 585.40,278.13 585.50,279.60 585.60,281.00 585.70,282.36 585.80,283.66 585.90,284.90 586.00,286.10 586.10,287.25 586.20,288.36 586.30,289.42 586.40,290.45 586.50,291.43 586.60,292.37 586.70,293.28 586.80,294.15 586.90,294.99 587.00,295.80 587.10,296.57 587.20,297.32 587.30,298.03 587.40,298.72 587.50,299.39 587.60,300.03 587.70,300.64 587.80,301.23 587.90,301.80" fill="none" stroke="#f0f" stroke-width="1"/>
</g>
<path d="M87.5 62.5H587.5V437H87.5Z" fill="none" stroke="#000" stroke-width="1.15"/>
<path d="M87.5 67.30h10M587.5 67.30h-10M87.5 84.25h10M587.5 84.25h-10M87.5 101.20h10M587.5 101.20h-10M87.5 118.15h10M587.5 118.15h-10M87.5 135.10h19M587.5 135.10h-19M87.5 152.05h10M587.5 152.05h-10M87.5 169.00h10M587.5 169.00h-10M87.5 185.95h10M587.5 185.95h-10M87.5 202.90h10M587.5 202.90h-10M87.5 219.85h19M587.5 219.85h-19M87.5 236.80h10M587.5 236.80h-10M87.5 253.75h10M587.5 253.75h-10M87.5 270.70h10M587.5 270.70h-10M87.5 287.65h10M587.5 287.65h-10M87.5 304.60h19M587.5 304.60h-19M87.5 321.55h10M587.5 321.55h-10M87.5 338.50h10M587.5 338.50h-10M87.5 355.45h10M587.5 355.45h-10M87.5 372.40h10M587.5 372.40h-10M87.5 389.35h19M587.5 389.35h-19M87.5 406.30h10M587.5 406.30h-10M87.5 423.25h10M587.5 423.25h-10M99.88 437v-10M99.88 62.5v10M121.19 437v-10M121.19 62.5v10M142.49 437v-10M142.49 62.5v10M163.80 437v-19M163.80 62.5v19M185.11 437v-10M185.11 62.5v10M206.41 437v-10M206.41 62.5v10M227.72 437v-10M227.72 62.5v10M249.03 437v-10M249.03 62.5v10M270.34 437v-19M270.34 62.5v19M291.64 437v-10M291.64 62.5v10M312.95 437v-10M312.95 62.5v10M334.26 437v-10M334.26 62.5v10M355.56 437v-10M355.56 62.5v10M376.87 437v-19M376.87 62.5v19M398.18 437v-10M398.18 62.5v10M419.48 437v-10M419.48 62.5v10M440.79 437v-10M440.79 62.5v10M462.10 437v-10M462.10 62.5v10M483.41 437v-19M483.41 62.5v19M504.71 437v-10M504.71 62.5v10M526.02 437v-10M526.02 62.5v10M547.33 437v-10M547.33 62.5v10M568.63 437v-10M568.63 62.5v10" stroke="#000" stroke-width="1" fill="none"/>
<text x="78.4" y="142.2" text-anchor="end" class="n" textLength="36.8" lengthAdjust="spacingAndGlyphs">17.5</text>
<text x="78.4" y="226.9" text-anchor="end" class="n" textLength="21.0" lengthAdjust="spacingAndGlyphs">18</text>
<text x="78.4" y="311.7" text-anchor="end" class="n" textLength="36.8" lengthAdjust="spacingAndGlyphs">18.5</text>
<text x="78.4" y="396.5" text-anchor="end" class="n" textLength="21.0" lengthAdjust="spacingAndGlyphs">19</text>
<text x="163.8" y="462.6" text-anchor="middle" class="n" textLength="42.0" lengthAdjust="spacingAndGlyphs">9000</text>
<text x="270.3" y="462.6" text-anchor="middle" class="n" textLength="42.0" lengthAdjust="spacingAndGlyphs">9500</text>
<text x="376.9" y="462.6" text-anchor="middle" class="n" textLength="52.5" lengthAdjust="spacingAndGlyphs">10000</text>
<text x="483.4" y="462.6" text-anchor="middle" class="n" textLength="52.5" lengthAdjust="spacingAndGlyphs">10500</text>
<text x="337.5" y="40.7" text-anchor="middle" class="t" textLength="197.5" lengthAdjust="spacingAndGlyphs">OGLE-2025-BLG-1476</text>
<text x="337.8" y="491.3" text-anchor="middle" class="t" textLength="128" lengthAdjust="spacingAndGlyphs">HJD - 2450000</text>
<text transform="translate(27,249.5) rotate(-90)" text-anchor="middle" class="t" textLength="106" lengthAdjust="spacingAndGlyphs">I magnitude</text></svg></body></html>
